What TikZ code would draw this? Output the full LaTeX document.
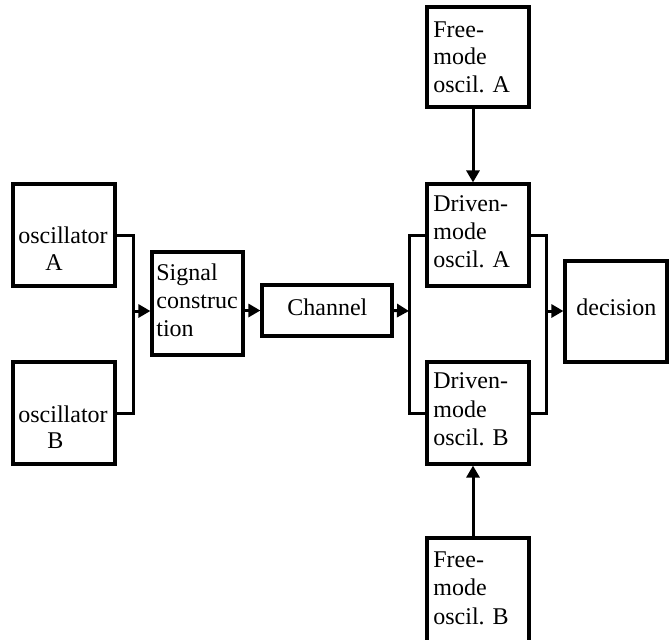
\documentclass[tikz,border=0pt]{standalone}
\usepackage{fontspec}
\setmainfont{Liberation Serif}
\usetikzlibrary{arrows.meta}
\tikzset{
  box/.style={draw, line width=1.6pt, inner sep=0pt, fill=none},
  txt/.style={anchor=base west, inner sep=0pt, font=\fontsize{12}{14}\selectfont},
  conn/.style={line width=1.5pt},
  arr/.style={line width=1.5pt, -{Triangle[length=6pt,width=6.5pt]}}
}
\begin{document}
\begin{tikzpicture}[x=0.5pt,y=-0.5pt]
\useasboundingbox (0,0) rectangle (670,639);
\clip (0,0) rectangle (670,639);
% boxes
\node[box, minimum width=51pt, minimum height=51pt] (oscA) at (64,235) {};
\node[box, minimum width=51pt, minimum height=51pt] (oscB) at (64,413) {};
\node[box, minimum width=45.5pt, minimum height=51.5pt] (sig) at (197.5,303.5) {};
\node[box, minimum width=65pt, minimum height=25.5pt] (chan) at (327,310.5) {};
\node[box, minimum width=51pt, minimum height=50pt] (fa) at (478,57) {};
\node[box, minimum width=51pt, minimum height=51pt] (da) at (478,235) {};
\node[box, minimum width=51pt, minimum height=51pt] (db) at (478,413) {};
\node[box, minimum width=51pt, minimum height=101.5pt] (fb) at (478,639.5) {};
\node[box, minimum width=51pt, minimum height=50.5pt] (dec) at (616,311.5) {};
% texts
\node[txt] (oscAa) at (18,243) {oscillator};
\node[txt] (oscAb) at (45,270) {A};
\node[txt] (oscBa) at (18,422) {oscillator};
\node[txt] (oscBb) at (47,448) {B};
\node[txt] (siga) at (156,280) {Signal};
\node[txt] (sigb) at (156,308) {construc};
\node[txt] (sigc) at (156,336) {tion};
\node[txt] (chant) at (287,315) {Channel};
\node[txt] (faa) at (433,37) {Free-};
\node[txt] (fab) at (433,64.5) {mode};
\node[txt] (fac) at (433,92) {oscil. A};
\node[txt] (daa) at (433,211) {Driven-};
\node[txt] (dab) at (433,239) {mode};
\node[txt] (dac) at (433,267) {oscil. A};
\node[txt] (dba) at (433,388.5) {Driven-};
\node[txt] (dbb) at (433,417) {mode};
\node[txt] (dbc) at (433,445) {oscil. B};
\node[txt] (fba) at (433,567) {Free-};
\node[txt] (fbb) at (433,595) {mode};
\node[txt] (fbc) at (433,624) {oscil. B};
\node[txt] (dect) at (576,315) {decision};
% junctions
\coordinate (jL) at (133,311);
\coordinate (jM) at (409,311);
\coordinate (jR) at (546,311);
% connectors
\draw[conn] (oscA.east) -| (jL) |- (oscB.east);
\draw[arr] (jL) -- (jL -| sig.west);
\draw[arr] (sig.east |- chan.west) -- (chan.west);
\draw[arr] (chan.east) -- (jM);
\draw[conn] (da.west) -| (jM) |- (db.west);
\draw[conn] (da.east) -| (jR) |- (db.east);
\draw[arr] (jR) -- (jR -| dec.west);
\draw[arr] ([xshift=-2.5pt]fa.south) -- ([xshift=-2.5pt]da.north);
\draw[arr] ([xshift=-2.5pt]fb.north) -- ([xshift=-2.5pt]db.south);
\end{tikzpicture}
\end{document}
